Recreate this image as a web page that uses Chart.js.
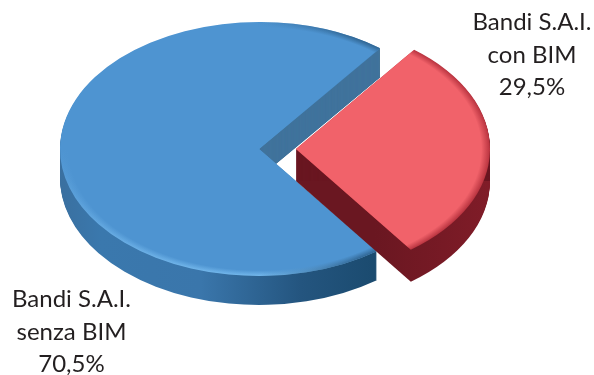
<!DOCTYPE html>
<html lang="it">
<head>
    <meta charset="UTF-8">
    <title>Bandi S.A.I.</title>
    <script src="https://cdn.jsdelivr.net/npm/chart.js"></script>
    <style>
        html, body { margin: 0; padding: 0; background: #fff; }
        canvas { display: block; }
    </style>
</head>
<body>
    <canvas id="pieChart" width="594" height="375"></canvas>

    <script>
        // Chart values
        const sliceNames = ['Bandi S.A.I. con BIM', 'Bandi S.A.I. senza BIM'];
        const sliceValues = [29.5, 70.5];
        const labelLines = [['Bandi S.A.I.', 'con BIM'], ['Bandi S.A.I.', 'senza BIM']];

        const BASE_RADIUS = 100;

        // Where each slice sits on the tilted plate, and how it is painted
        const sliceLook = [
            {
                cx: 296, cy: 149, rx: 194, ry: 125, depth: 32, turn: -0.5,
                face: '#f1626a',
                rim: [[0, '#b8333f'], [1, '#b8333f']],
                rimShade: [[0, '#b8333f00'], [1, '#b8333f00']],
                side: [[0, '#6a1721'], [0.7, '#6a1721'], [1, '#801c28']],
                wall: '#6a1721',
                labelX: 532, labelY: 30
            },
            {
                cx: 259, cy: 149, rx: 199, ry: 127, depth: 29, turn: -0.5,
                face: '#4e94d1',
                rim: [[0, '#4e94d1'], [0.5, '#4e94d1'], [1, '#74b8ec']],
                rimShade: [[0, '#2f649100'], [0.5, '#2f649100'], [0.75, '#2f6491ff'], [1, '#2f6491ff']],
                side: [[0, '#3a70a0'], [0.1, '#3a78ad'], [0.35, '#3a76ab'], [0.6, '#24557f'], [0.8, '#1a4a6e'], [1, '#1a4a6e']],
                wall: '#40739c',
                labelX: 71.5, labelY: 307
            }
        ];

        function placeSlice(ctx, arc, look, dy) {
            ctx.translate(look.cx, look.cy + dy);
            ctx.scale(look.rx / BASE_RADIUS, look.ry / BASE_RADIUS);
            ctx.rotate(look.turn * Math.PI / 180);
            ctx.translate(-arc.x, -arc.y);
        }

        function makeGradient(ctx, x0, y0, x1, y1, stops) {
            const g = ctx.createLinearGradient(x0, y0, x1, y1);
            stops.forEach(s => g.addColorStop(s[0], s[1]));
            return g;
        }

        function acrossGradient(ctx, arc, stops) {
            return makeGradient(ctx, arc.x - BASE_RADIUS, 0, arc.x + BASE_RADIUS, 0, stops);
        }

        function downGradient(ctx, arc, stops) {
            return makeGradient(ctx, 0, arc.y - BASE_RADIUS, 0, arc.y + BASE_RADIUS, stops);
        }

        // Arc elements read their fill from options, so swap it for one draw
        function paintArc(ctx, arc, fill) {
            const saved = arc.options;
            arc.options = Object.assign({}, saved, { backgroundColor: fill });
            arc.draw(ctx);
            arc.options = saved;
        }

        function drawSlice(ctx, chart, arc, look) {
            const sideFill = acrossGradient(ctx, arc, look.side);

            // side of the plate, stacked upward
            for (let d = look.depth; d > 0; d--) {
                ctx.save();
                placeSlice(ctx, arc, look, d);
                paintArc(ctx, arc, sideFill);
                ctx.restore();
            }

            // cut wall behind the centre gets its own flat tone
            ctx.save();
            ctx.beginPath();
            ctx.rect(look.cx, 0, chart.width - look.cx, look.cy + look.depth);
            ctx.clip();
            for (let d = look.depth; d > 0; d--) {
                ctx.save();
                placeSlice(ctx, arc, look, d);
                paintArc(ctx, arc, look.wall);
                ctx.restore();
            }
            ctx.restore();

            // top face: coloured rim first, then the face fading out at the edge
            ctx.save();
            placeSlice(ctx, arc, look, 0);
            paintArc(ctx, arc, downGradient(ctx, arc, look.rim));
            paintArc(ctx, arc, acrossGradient(ctx, arc, look.rimShade));
            const r = look.face;
            const glow = ctx.createRadialGradient(arc.x, arc.y, 0, arc.x, arc.y, BASE_RADIUS);
            glow.addColorStop(0, r);
            glow.addColorStop(0.955, r);
            glow.addColorStop(1, r + '00');
            paintArc(ctx, arc, glow);
            ctx.restore();
        }

        const plateSlices = {
            id: 'plateSlices',
            beforeDatasetsDraw(chart) {
                const ctx = chart.ctx;
                const arcs = chart.getDatasetMeta(0).data;
                drawSlice(ctx, chart, arcs[1], sliceLook[1]);
                drawSlice(ctx, chart, arcs[0], sliceLook[0]);
                return false;
            },
            afterDraw(chart) {
                const ctx = chart.ctx;
                ctx.save();
                ctx.font = '24px Lato';
                ctx.fillStyle = '#231f20';
                ctx.textAlign = 'center';
                sliceLook.forEach((look, i) => {
                    const value = sliceValues[i].toFixed(1).replace('.', ',') + '%';
                    labelLines[i].concat(value).forEach((line, n) => {
                        ctx.fillText(line, look.labelX, look.labelY + n * 32.5);
                    });
                });
                ctx.restore();
            }
        };

        new Chart(document.getElementById('pieChart'), {
            type: 'pie',
            data: {
                labels: sliceNames,
                datasets: [{
                    data: sliceValues,
                    backgroundColor: ['#f1626a', '#4e94d1'],
                    borderWidth: 0
                }]
            },
            options: {
                responsive: false,
                animation: false,
                rotation: 38,
                radius: BASE_RADIUS,
                plugins: {
                    legend: { display: false },
                    tooltip: { enabled: false }
                }
            },
            plugins: [plateSlices]
        });
    </script>
</body>
</html>
